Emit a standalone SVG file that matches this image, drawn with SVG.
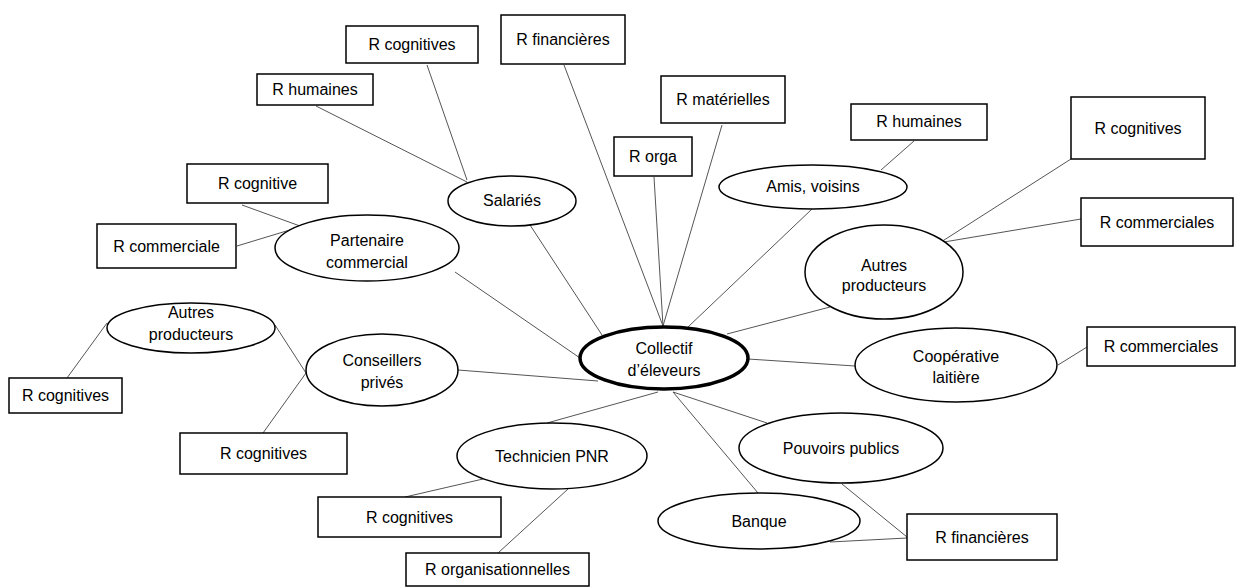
<svg xmlns="http://www.w3.org/2000/svg" width="1237" height="587" viewBox="0 0 1237 587">
<style>
.b{fill:#fff;stroke:#000;stroke-width:1.5}
.e{fill:#fff;stroke:#000;stroke-width:1.5}
.c{fill:#fff;stroke:#000;stroke-width:3.5}
.l{stroke:#555;stroke-width:1;fill:none}
text{font-family:"Liberation Sans",Arial,sans-serif;font-size:16px;fill:#000;text-anchor:middle}
</style>
<rect width="1237" height="587" fill="#fff"/>
<g id="connectors">
<line class="l" x1="427" y1="65" x2="467" y2="180"/>
<line class="l" x1="316" y1="106" x2="467" y2="182"/>
<line class="l" x1="242" y1="205" x2="300" y2="226"/>
<line class="l" x1="237" y1="246" x2="293" y2="229"/>
<line class="l" x1="455" y1="272" x2="580" y2="358"/>
<line class="l" x1="530" y1="225" x2="602" y2="335"/>
<line class="l" x1="564" y1="65" x2="663" y2="326"/>
<line class="l" x1="654" y1="177" x2="663" y2="326"/>
<line class="l" x1="722" y1="125" x2="663" y2="326"/>
<line class="l" x1="812" y1="209" x2="688" y2="327"/>
<line class="l" x1="914" y1="141" x2="881" y2="170"/>
<line class="l" x1="1071" y1="159" x2="941" y2="242"/>
<line class="l" x1="1081" y1="219" x2="944" y2="242"/>
<line class="l" x1="830" y1="307" x2="727" y2="334"/>
<line class="l" x1="748" y1="359" x2="855" y2="366"/>
<line class="l" x1="1058" y1="365" x2="1087" y2="347"/>
<line class="l" x1="458" y1="370" x2="598" y2="381"/>
<line class="l" x1="107" y1="323" x2="67" y2="378"/>
<line class="l" x1="275" y1="325" x2="306" y2="373"/>
<line class="l" x1="263" y1="433" x2="306" y2="373"/>
<line class="l" x1="658" y1="392" x2="547" y2="423"/>
<line class="l" x1="483" y1="479" x2="405" y2="497"/>
<line class="l" x1="568" y1="489" x2="498" y2="553"/>
<line class="l" x1="673" y1="392" x2="767" y2="423"/>
<line class="l" x1="673" y1="392" x2="758" y2="493"/>
<line class="l" x1="842" y1="484" x2="907" y2="537"/>
<line class="l" x1="830" y1="542" x2="907" y2="538"/>
</g>
<g id="n-rcog-top"><rect class="b" x="346" y="26" width="132" height="37"/><text x="412" y="50">R cognitives</text></g>
<g id="n-rhum-left"><rect class="b" x="257" y="74" width="116" height="31"/><text x="315" y="95">R humaines</text></g>
<g id="n-rcog-partner"><rect class="b" x="187" y="164" width="141" height="39"/><text x="257.5" y="189">R cognitive</text></g>
<g id="n-rcomm-partner"><rect class="b" x="97" y="224" width="139" height="44"/><text x="166.5" y="251.5">R commerciale</text></g>
<g id="n-rfin-top"><rect class="b" x="501" y="15" width="124" height="49"/><text x="563" y="45">R financières</text></g>
<g id="n-rmat"><rect class="b" x="661" y="76" width="124" height="47"/><text x="723" y="105">R matérielles</text></g>
<g id="n-rorga"><rect class="b" x="614" y="137" width="78" height="39"/><text x="653" y="162">R orga</text></g>
<g id="n-rhum-right"><rect class="b" x="851" y="104" width="136" height="36"/><text x="919" y="127">R humaines</text></g>
<g id="n-rcog-right"><rect class="b" x="1071" y="97" width="134" height="62"/><text x="1138" y="134">R cognitives</text></g>
<g id="n-rcomm-right"><rect class="b" x="1081" y="198" width="152" height="48"/><text x="1157" y="228">R commerciales</text></g>
<g id="n-rcomm-coop"><rect class="b" x="1087" y="327" width="148" height="39"/><text x="1161" y="352">R commerciales</text></g>
<g id="n-rcog-left"><rect class="b" x="9" y="378" width="113" height="35"/><text x="65.5" y="401">R cognitives</text></g>
<g id="n-rcog-cons"><rect class="b" x="180" y="433" width="167" height="41"/><text x="263.5" y="459">R cognitives</text></g>
<g id="n-rcog-tech"><rect class="b" x="318" y="497" width="183" height="40"/><text x="409.5" y="522.5">R cognitives</text></g>
<g id="n-rorg-tech"><rect class="b" x="406" y="553" width="183" height="33"/><text x="497.5" y="575">R organisationnelles</text></g>
<g id="n-rfin-bottom"><rect class="b" x="907" y="514" width="150" height="46"/><text x="982" y="543">R financières</text></g>
<g id="n-salaries"><ellipse class="e" cx="512" cy="201" rx="64" ry="25"/><text x="512" y="206">Salariés</text></g>
<g id="n-partenaire"><ellipse class="e" cx="367" cy="248" rx="92" ry="33"/><text x="367" y="246">Partenaire</text><text x="367" y="268">commercial</text></g>
<g id="n-amis"><ellipse class="e" cx="813" cy="187" rx="94" ry="22"/><text x="813" y="192">Amis, voisins</text></g>
<g id="n-autres-right"><ellipse class="e" cx="884" cy="272" rx="79" ry="47"/><text x="884" y="271">Autres</text><text x="884" y="291">producteurs</text></g>
<g id="n-autres-left"><ellipse class="e" cx="191" cy="328" rx="84" ry="25"/><text x="191" y="318">Autres</text><text x="191" y="340">producteurs</text></g>
<g id="n-conseillers"><ellipse class="e" cx="382" cy="370" rx="76" ry="36"/><text x="382" y="366">Conseillers</text><text x="382" y="388">privés</text></g>
<g id="n-collectif"><ellipse class="c" cx="664" cy="358" rx="84" ry="31"/><text x="664" y="354">Collectif</text><text x="664" y="376">d’éleveurs</text></g>
<g id="n-coop"><ellipse class="e" cx="956" cy="365" rx="101" ry="37"/><text x="956" y="362">Coopérative</text><text x="956" y="383">laitière</text></g>
<g id="n-technicien"><ellipse class="e" cx="552" cy="456" rx="95" ry="33"/><text x="552" y="462">Technicien PNR</text></g>
<g id="n-pouvoirs"><ellipse class="e" cx="841" cy="448" rx="102" ry="35"/><text x="841" y="454">Pouvoirs publics</text></g>
<g id="n-banque"><ellipse class="e" cx="759" cy="521" rx="101" ry="28"/><text x="759" y="527">Banque</text></g>
</svg>
